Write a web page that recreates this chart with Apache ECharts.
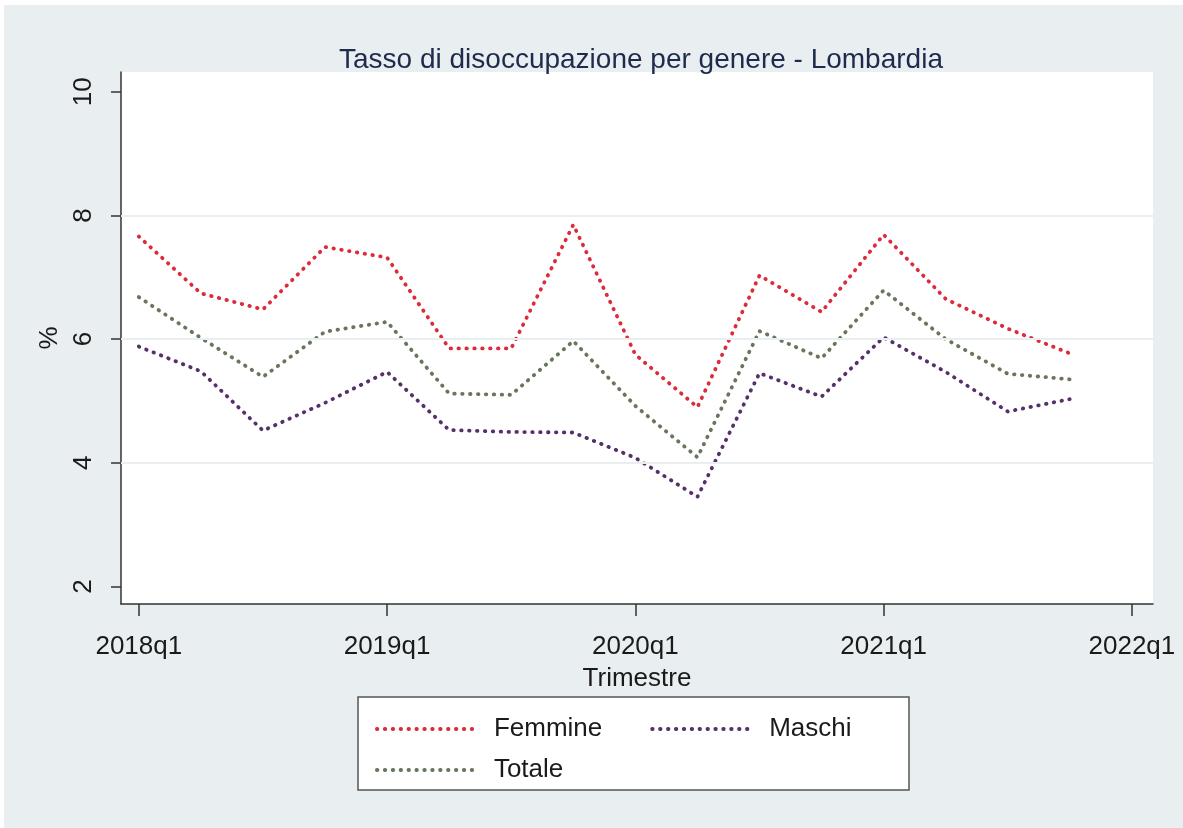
<!DOCTYPE html>
<html>
<head>
<meta charset="utf-8">
<script src="https://cdn.jsdelivr.net/npm/echarts@6/dist/echarts.min.js"></script>
<style>
html,body{margin:0;padding:0;background:#ffffff;}
#wrap{position:absolute;left:4px;top:5px;width:1179px;height:823px;background:#e9eff1;}
#chart{position:absolute;left:0;top:0;width:1183px;height:828px;}
</style>
</head>
<body>
<div id="wrap"></div>
<div id="chart"></div>
<script>
// Quarter index 0 = 2018q1 ... 15 = 2021q4
const quarters = [0,1,2,3,4,5,6,7,8,9,10,11,12,13,14,15];
const tickValues = [0,4,8,12,16];
const tickLabels = ['2018q1','2019q1','2020q1','2021q1','2022q1'];
const yTicks = [2,4,6,8,10];
const gridValues = [4,6,8];

const femmine = [7.66, 6.74, 6.48, 7.49, 7.32, 5.85, 5.85, 7.85, 5.75, 4.90, 7.03, 6.44, 7.69, 6.65, 6.17, 5.77];
const maschi  = [5.88, 5.48, 4.52, 4.97, 5.47, 4.53, 4.50, 4.49, 4.08, 3.45, 5.45, 5.07, 6.03, 5.47, 4.83, 5.03];
const totale  = [6.68, 6.02, 5.39, 6.12, 6.28, 5.12, 5.10, 5.97, 4.92, 4.09, 6.13, 5.69, 6.79, 6.00, 5.44, 5.35];

const names = ['Femmine','Maschi','Totale'];
const colors = ['#dc2c3c','#55306a','#68765c'];

const chart = echarts.init(document.getElementById('chart'), null, {renderer:'canvas'});
const FONT = '"Liberation Sans", Arial, sans-serif';
const DOT = [0.5, 7.4];

function mkSeries(name, vals, color, extra){
  return Object.assign({
    name: name,
    type: 'line',
    symbol: 'none',
    data: quarters.map((q,i)=>[q, vals[i]]),
    lineStyle: {color: color, width: 3.8, type: DOT, cap: 'round'},
    itemStyle: {color: color},
    z: 3
  }, extra || {});
}

const legendCommon = {
  itemWidth: 100, itemHeight: 14,
  itemStyle: {opacity: 0},
  lineStyle: {width: 3.8, type: DOT, cap: 'round'},
  textStyle: {fontFamily: FONT, fontSize: 26, color: '#1a1a1a', width: 130, padding: [0,0,0,12]}
};

const option = {
  backgroundColor: 'transparent',
  animation: false,
  title: {
    text: 'Tasso di disoccupazione per genere - Lombardia',
    left: 636,
    textAlign: 'center',
    top: 41,
    textStyle: {fontFamily: FONT, fontSize: 28, fontWeight: 'normal', color: '#1f2b4c'}
  },
  grid: {left: 121, right: 30, top: 72, bottom: 224, show: true, backgroundColor: '#ffffff', borderWidth: 0},
  xAxis: {
    type: 'value',
    min: -0.287, max: 16.34,
    name: 'Trimestre',
    nameLocation: 'middle',
    nameGap: 62,
    nameTextStyle: {fontFamily: FONT, fontSize: 26, color: '#1a1a1a'},
    axisLine: {show: true, onZero: false, lineStyle: {color: '#333', width: 1.5}},
    axisTick: {show: true, length: 12, customValues: tickValues, lineStyle: {color: '#333', width: 1.5}},
    axisLabel: {
      customValues: tickValues,
      margin: 30,
      fontFamily: FONT, fontSize: 26, color: '#1a1a1a',
      formatter: function(v){ const i = tickValues.indexOf(Math.round(v)); return i>=0 ? tickLabels[i] : ''; }
    },
    splitLine: {show: false}
  },
  yAxis: {
    type: 'value',
    min: 1.717, max: 10.32,
    name: '%',
    nameLocation: 'middle',
    nameRotate: 90,
    nameGap: 49,
    nameTextStyle: {fontFamily: FONT, fontSize: 26, color: '#1a1a1a'},
    axisLine: {show: true, onZero: false, lineStyle: {color: '#333', width: 1.5}},
    axisTick: {show: true, length: 10, customValues: yTicks, lineStyle: {color: '#333', width: 1.5}},
    axisLabel: {
      customValues: yTicks,
      rotate: 90,
      margin: 24,
      fontFamily: FONT, fontSize: 26, color: '#1a1a1a'
    },
    splitLine: {show: false}
  },
  legend: [
    Object.assign({data: ['Femmine','Maschi'], left: 370, top: 711, itemGap: 48}, legendCommon),
    Object.assign({data: ['Totale'], left: 370, top: 752}, legendCommon)
  ],
  graphic: [
    {
      type: 'rect', z: 0, zlevel: 0,
      shape: {x: 358, y: 697, width: 551, height: 93},
      style: {fill: '#ffffff', stroke: '#555555', lineWidth: 1.5}
    }
  ],
  series: [
    mkSeries(names[0], femmine, colors[0], {
      markLine: {
        silent: true, symbol: 'none', label: {show: false}, animation: false,
        lineStyle: {color: '#e9eff1', width: 2, type: 'solid'},
        data: gridValues.map(v => ({yAxis: v}))
      }
    }),
    mkSeries(names[1], maschi, colors[1]),
    mkSeries(names[2], totale, colors[2])
  ]
};
chart.setOption(option);
</script>
</body>
</html>
